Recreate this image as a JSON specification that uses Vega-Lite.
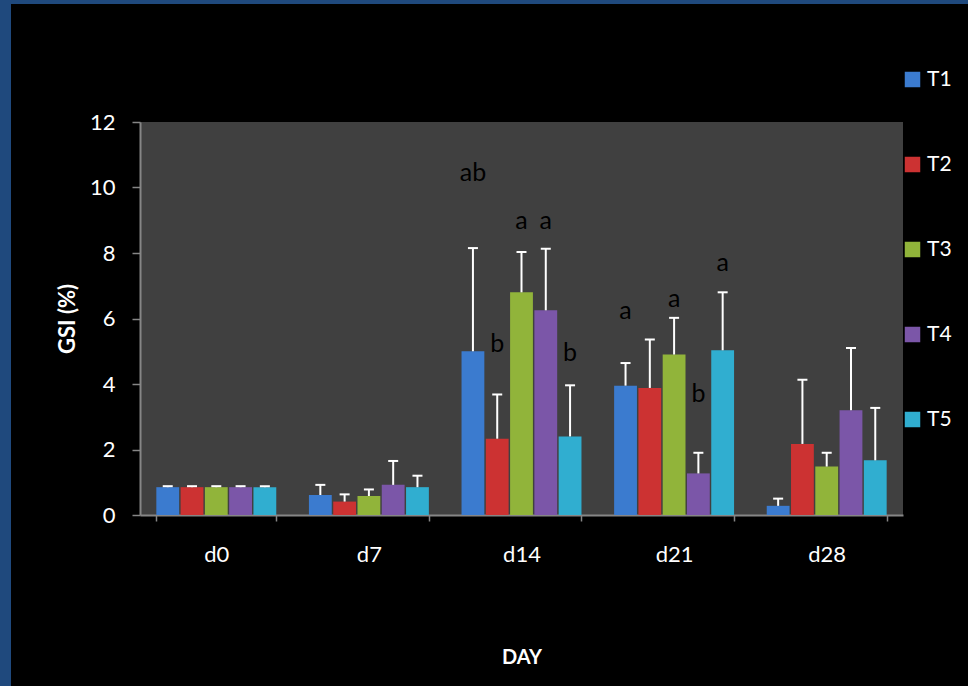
{
  "$schema": "https://vega.github.io/schema/vega-lite/v6.json",
  "background": "#000000",
  "padding": 0,
  "autosize": {"type": "pad"},
  "config": {"view": {"stroke": null}, "font": "Lato"},
  "datasets": {
    "gsi": [
      {"day": "d0", "treatment": "T1", "mean": 0.85, "upper": 0.88},
      {"day": "d0", "treatment": "T2", "mean": 0.85, "upper": 0.88},
      {"day": "d0", "treatment": "T3", "mean": 0.85, "upper": 0.88},
      {"day": "d0", "treatment": "T4", "mean": 0.85, "upper": 0.88},
      {"day": "d0", "treatment": "T5", "mean": 0.85, "upper": 0.88},
      {"day": "d7", "treatment": "T1", "mean": 0.61, "upper": 0.92},
      {"day": "d7", "treatment": "T2", "mean": 0.41, "upper": 0.63},
      {"day": "d7", "treatment": "T3", "mean": 0.58, "upper": 0.78},
      {"day": "d7", "treatment": "T4", "mean": 0.92, "upper": 1.65},
      {"day": "d7", "treatment": "T5", "mean": 0.85, "upper": 1.2},
      {"day": "d14", "treatment": "T1", "mean": 5.0, "upper": 8.15},
      {"day": "d14", "treatment": "T2", "mean": 2.33, "upper": 3.68},
      {"day": "d14", "treatment": "T3", "mean": 6.8, "upper": 8.03},
      {"day": "d14", "treatment": "T4", "mean": 6.25, "upper": 8.13},
      {"day": "d14", "treatment": "T5", "mean": 2.4, "upper": 3.96},
      {"day": "d21", "treatment": "T1", "mean": 3.95, "upper": 4.64},
      {"day": "d21", "treatment": "T2", "mean": 3.88, "upper": 5.36},
      {"day": "d21", "treatment": "T3", "mean": 4.9, "upper": 6.02},
      {"day": "d21", "treatment": "T4", "mean": 1.27, "upper": 1.9},
      {"day": "d21", "treatment": "T5", "mean": 5.03, "upper": 6.8},
      {"day": "d28", "treatment": "T1", "mean": 0.28, "upper": 0.5},
      {"day": "d28", "treatment": "T2", "mean": 2.17, "upper": 4.13},
      {"day": "d28", "treatment": "T3", "mean": 1.48, "upper": 1.9},
      {"day": "d28", "treatment": "T4", "mean": 3.2, "upper": 5.1},
      {"day": "d28", "treatment": "T5", "mean": 1.67, "upper": 3.27}
    ],
    "letters": [
      {"day": "d14", "treatment": "T1", "letter": "ab", "at": 10.44},
      {"day": "d14", "treatment": "T2", "letter": "b", "at": 5.23},
      {"day": "d14", "treatment": "T3", "letter": "a", "at": 8.98},
      {"day": "d14", "treatment": "T4", "letter": "a", "at": 8.98},
      {"day": "d14", "treatment": "T5", "letter": "b", "at": 4.96},
      {"day": "d21", "treatment": "T1", "letter": "a", "at": 6.23},
      {"day": "d21", "treatment": "T3", "letter": "a", "at": 6.6},
      {"day": "d21", "treatment": "T4", "letter": "b", "at": 3.7},
      {"day": "d21", "treatment": "T5", "letter": "a", "at": 7.7}
    ]
  },
  "bounds": "flush",
  "spacing": 0,
  "resolve": {"scale": {"color": "independent"}, "legend": {"color": "independent"}},
  "vconcat": [
    {
      "data": {"values": []},
      "mark": "rect",
      "width": 968,
      "height": 4,
      "view": {"fill": "#1f497d", "stroke": null}
    },
    {
      "bounds": "flush",
      "spacing": 129,
      "resolve": {"scale": {"color": "independent"}, "legend": {"color": "independent"}},
      "hconcat": [
        {
          "data": {"values": []},
          "mark": "rect",
          "width": 11,
          "height": 682,
          "view": {"fill": "#1f497d", "stroke": null}
        },
        {
          "bounds": "flush",
          "spacing": 117,
          "resolve": {"scale": {"color": "independent"}, "legend": {"color": "independent"}},
          "vconcat": [
            {
              "data": {"values": []},
              "mark": "rect",
              "width": 763,
              "height": 1
            },
            {
              "width": 763,
              "height": 393,
              "view": {"fill": "#404040", "stroke": null},
              "data": {"name": "gsi"},
              "encoding": {
                "x": {
                  "field": "day",
                  "type": "nominal",
                  "sort": ["d0", "d7", "d14", "d21", "d28"],
                  "scale": {"paddingInner": 0.214, "paddingOuter": 0.107},
                  "title": "DAY",
                  "axis": {
                    "labelAngle": 0,
                    "tickBand": "extent",
                    "domainColor": "#868686",
                    "domainWidth": 2,
                    "tickColor": "#868686",
                    "tickWidth": 1.5,
                    "tickSize": 6,
                    "labelColor": "#ffffff",
                    "labelFontSize": 22,
                    "labelPadding": 23,
                    "titleColor": "#ffffff",
                    "titleFontSize": 20,
                    "titleFontWeight": "bold",
                    "titlePadding": 82
                  }
                },
                "xOffset": {
                  "field": "treatment",
                  "type": "nominal",
                  "sort": ["T1", "T2", "T3", "T4", "T5"],
                  "scale": {"paddingInner": 0.06, "paddingOuter": 0}
                }
              },
              "layer": [
                {
                  "mark": {"type": "bar"},
                  "encoding": {
                    "y": {
                      "field": "mean",
                      "type": "quantitative",
                      "scale": {"domain": [0, 12]},
                      "title": "GSI (%)",
                      "axis": {
                        "values": [0, 2, 4, 6, 8, 10, 12],
                        "grid": false,
                        "domainColor": "#868686",
                        "domainWidth": 2,
                        "tickColor": "#868686",
                        "tickWidth": 1.5,
                        "tickSize": 8,
                        "labelColor": "#ffffff",
                        "labelFontSize": 22,
                        "labelPadding": 17,
                        "titleColor": "#ffffff",
                        "titleFontSize": 22,
                        "titleFontWeight": "bold",
                        "titlePadding": 10
                      }
                    },
                    "color": {
                      "field": "treatment",
                      "type": "nominal",
                      "sort": ["T1", "T2", "T3", "T4", "T5"],
                      "scale": {"range": ["#3b7bcf", "#cc3232", "#91b43a", "#7b56a8", "#30aed0"]},
                      "legend": {
                        "title": null,
                        "orient": "none",
                        "legendX": 762,
                        "legendY": -53,
                        "padding": 0,
                        "symbolType": "square",
                        "symbolSize": 240,
                        "symbolStrokeWidth": 0,
                        "symbolOpacity": 1,
                        "labelColor": "#ffffff",
                        "labelFontSize": 21,
                        "labelOffset": 4,
                        "rowPadding": 63
                      }
                    }
                  }
                },
                {
                  "mark": {"type": "rule", "color": "#ffffff", "strokeWidth": 2},
                  "encoding": {
                    "y": {"field": "mean", "type": "quantitative"},
                    "y2": {"field": "upper"}
                  }
                },
                {
                  "mark": {"type": "tick", "color": "#ffffff", "size": 10, "thickness": 2, "opacity": 1},
                  "encoding": {
                    "y": {"field": "upper", "type": "quantitative"}
                  }
                },
                {
                  "data": {"name": "letters"},
                  "mark": {"type": "text", "color": "#000000", "fontSize": 25, "baseline": "middle", "align": "center"},
                  "encoding": {
                    "y": {"field": "at", "type": "quantitative"},
                    "text": {"field": "letter", "type": "nominal"}
                  }
                }
              ]
            }
          ]
        }
      ]
    }
  ]
}
